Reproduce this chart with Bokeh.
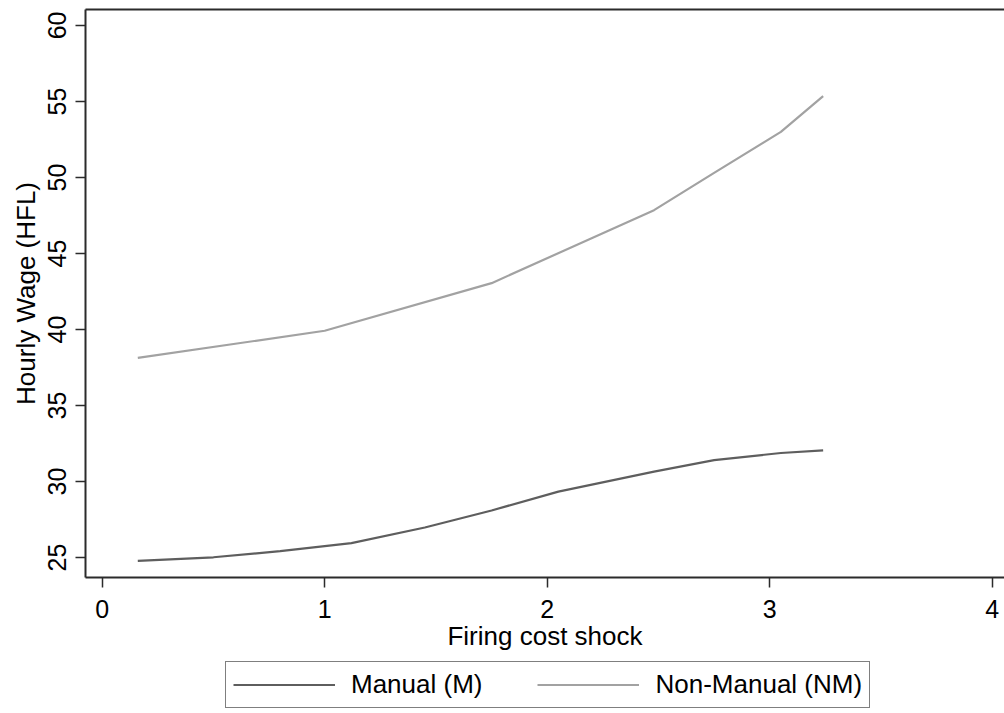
from bokeh.plotting import figure
from bokeh.layouts import column
from bokeh.models import FixedTicker, LinearAxis, Legend, LegendItem, Range1d
from bokeh.embed import file_html
from bokeh.resources import INLINE

# ---- data ----
x_manual = [0.16, 0.50, 0.80, 1.12, 1.45, 1.75, 2.05, 2.48, 2.75, 3.05, 3.24]
y_manual = [24.78, 25.02, 25.42, 25.95, 26.98, 28.10, 29.34, 30.65, 31.41, 31.88, 32.05]

x_nonmanual = [0.16, 1.00, 1.75, 2.48, 2.75, 3.05, 3.24]
y_nonmanual = [38.13, 39.92, 43.05, 47.85, 50.30, 53.00, 55.35]

x_ticks = [0, 1, 2, 3, 4]
y_ticks = [25, 30, 35, 40, 45, 50, 55, 60]

series_labels = ["Manual (M)", "Non-Manual (NM)"]
x_title = "Firing cost shock"
y_title = "Hourly Wage (HFL)"

FONT = "Liberation Sans"
AX = "#2b2b2b"
C_M = "#5e5e5e"
C_NM = "#a2a2a2"

p = figure(frame_width=919, frame_height=568, output_backend="svg", toolbar_location=None,
           x_range=Range1d(-0.075, 4.055), y_range=Range1d(23.69, 61.05),
           min_border_left=85, min_border_right=0, min_border_top=9,
           min_border_bottom=80)
p.background_fill_color = "white"
p.border_fill_color = "white"
p.outline_line_color = None
p.grid.visible = False

p.line(x_manual, y_manual, line_color=C_M, line_width=2.2)
p.line(x_nonmanual, y_nonmanual, line_color=C_NM, line_width=2.2)

for ax in (p.xaxis[0], p.yaxis[0]):
    ax.axis_line_color = AX
    ax.axis_line_width = 2
    ax.major_tick_line_color = AX
    ax.major_tick_line_width = 1.5
    ax.major_tick_out = 10
    ax.major_tick_in = 0
    ax.minor_tick_out = 0
    ax.minor_tick_in = 0
    ax.major_label_text_font = FONT
    ax.major_label_text_font_size = "25px"
    ax.major_label_text_color = "black"
    ax.axis_label_text_font = FONT
    ax.axis_label_text_font_size = "26px"
    ax.axis_label_text_font_style = "normal"
    ax.axis_label_text_color = "black"

p.xaxis[0].ticker = FixedTicker(ticks=x_ticks)
p.yaxis[0].ticker = FixedTicker(ticks=y_ticks)
p.xaxis[0].axis_label = x_title
p.yaxis[0].axis_label = y_title
p.xaxis[0].major_label_standoff = 12
p.xaxis[0].axis_label_standoff = 0
p.yaxis[0].major_label_orientation = "parallel"
p.yaxis[0].major_label_standoff = 9
p.yaxis[0].axis_label_standoff = 5

top = LinearAxis(ticker=FixedTicker(ticks=[]))
top.axis_line_color = AX
top.axis_line_width = 2
top.major_tick_out = 0
top.major_tick_in = 0
top.minor_tick_out = 0
top.minor_tick_in = 0
top.major_label_text_font_size = "0px"
top.major_label_standoff = 0
p.add_layout(top, "above")

# legend strip below the chart (its frame is aligned with the chart's frame)
lg = figure(width=1004, height=56, output_backend="svg", toolbar_location=None,
            x_range=Range1d(-0.075, 4.055), y_range=Range1d(100, 101),
            min_border=0, min_border_left=85)
lg.axis.visible = False
lg.grid.visible = False
lg.outline_line_color = None
lg.background_fill_color = "white"
lg.border_fill_color = "white"
k_m = lg.line(x_manual, y_manual, line_color=C_M, line_width=2.2)
k_nm = lg.line(x_nonmanual, y_nonmanual, line_color=C_NM, line_width=2.2)

legend = Legend(items=[LegendItem(label=series_labels[0], renderers=[k_m]),
                       LegendItem(label=series_labels[1], renderers=[k_nm])],
                orientation="horizontal", location=(140, 5))
legend.label_text_font = FONT
legend.label_text_font_size = "26px"
legend.label_text_color = "black"
legend.glyph_width = 102
legend.glyph_height = 25
legend.label_height = 25
legend.label_standoff = 16
legend.spacing = 55
legend.padding = 7
legend.margin = 0
legend.border_line_color = "black"
legend.border_line_width = 1.3
legend.background_fill_color = "white"
lg.add_layout(legend, "center")

open("out.html", "w").write(file_html(column(p, lg, spacing=0), INLINE))
